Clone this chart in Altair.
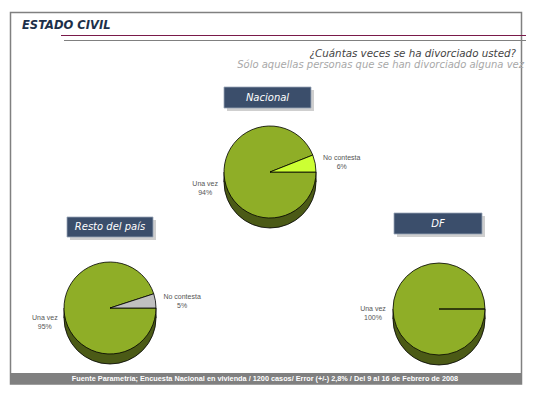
import math
import altair as alt
import pandas as pd

# ---------------- data ----------------
regions = ["Nacional", "Resto del país", "DF"]
categories = ["Una vez", "No contesta"]
pct_nacional = [94, 6]
pct_resto = [95, 5]
pct_df = [100, 0]

title_text = "ESTADO CIVIL"
question = "¿Cuántas veces se ha divorciado usted?"
subquestion = "Sólo aquellas personas que  se han divorciado alguna vez"
source = ("Fuente Parametría; Encuesta Nacional en vivienda / 1200 casos/ "
          "Error (+/-) 2,8% / Del 9 al 16 de Febrero de 2008")

rows = []
for reg, vals in zip(regions, [pct_nacional, pct_resto, pct_df]):
    for i, (c, v) in enumerate(zip(categories, vals)):
        rows.append(dict(region=reg, category=c, value=v, ord=i, label=f"{c}\n{v}%"))
data = pd.DataFrame(rows)
one = pd.DataFrame({"a": [0]})

# ---------------- layout / style ----------------
GREEN = "#8fae27"
DARK = "#4b5a16"
R = 46
DEPTH = 10
pies = {
    "Nacional": dict(cx=262, cy=164, wedge="#ccff33", box=(216, 303, 79, 100)),
    "Resto del país": dict(cx=102, cy=300, wedge="#c0c0c0", box=(59, 145, 209, 229)),
    "DF": dict(cx=431, cy=301, wedge="#c0c0c0", box=(386, 474, 205, 226)),
}

base = alt.Chart(one)
layers = []

# frame
layers.append(base.mark_rect(fillOpacity=0, stroke="#808080", strokeWidth=1.5).encode(
    x=alt.value(2.5), x2=alt.value(513.5), y=alt.value(4.5), y2=alt.value(376)))
# footer band
layers.append(base.mark_rect(fill="#808080").encode(
    x=alt.value(2), x2=alt.value(514), y=alt.value(365), y2=alt.value(376)))
layers.append(base.mark_text(text=source, font="Liberation Sans", fontWeight="bold",
                             fontSize=7.3, color="white", align="center", baseline="middle").encode(
    x=alt.value(257), y=alt.value(371)))
# title
layers.append(base.mark_text(text=title_text, font="DejaVu Sans", fontStyle="italic",
                             fontWeight="bold", fontSize=11.5, color="#1d3049",
                             align="left", baseline="alphabetic").encode(
    x=alt.value(14), y=alt.value(21)))
layers.append(base.mark_rule(color="#7a1a4a", strokeWidth=1).encode(
    x=alt.value(53), x2=alt.value(518), y=alt.value(27.5)))
layers.append(base.mark_rule(color="#808080", strokeWidth=1).encode(
    x=alt.value(56), x2=alt.value(518), y=alt.value(32.5)))
# question
layers.append(base.mark_text(text=question, font="DejaVu Sans", fontStyle="italic",
                             fontSize=10.3, color="#444444", align="right",
                             baseline="alphabetic").encode(x=alt.value(508), y=alt.value(48.5)))
layers.append(base.mark_text(text=subquestion, font="DejaVu Sans", fontStyle="italic",
                             fontSize=10.0, color="#a8a8a8", align="right",
                             baseline="alphabetic").encode(x=alt.value(516), y=alt.value(60)))

theta_scale = alt.Scale(range=[math.pi / 2, 5 * math.pi / 2])

for reg in regions:
    p = pies[reg]
    cx, cy = p["cx"], p["cy"]
    x0, x1, y0, y1 = p["box"]
    # title box with shadow
    layers.append(base.mark_rect(fill="#cfcfcf").encode(
        x=alt.value(x0 + 3), x2=alt.value(x1 + 3), y=alt.value(y0 + 3), y2=alt.value(y1 + 3)))
    layers.append(base.mark_rect(fill="#3b4e6b", stroke="#9aa6b8", strokeWidth=0.8).encode(
        x=alt.value(x0), x2=alt.value(x1), y=alt.value(y0), y2=alt.value(y1)))
    layers.append(base.mark_text(text=reg, font="DejaVu Sans", fontStyle="italic",
                                 fontSize=10, color="white", align="center",
                                 baseline="middle").encode(
        x=alt.value((x0 + x1) / 2), y=alt.value((y0 + y1) / 2)))
    # cylinder depth
    layers.append(base.mark_arc(radius=R, theta=0, theta2=2 * math.pi, fill=DARK,
                                stroke="black", strokeWidth=0.8).encode(
        x=alt.value(cx), y=alt.value(cy + DEPTH)))
    layers.append(base.mark_rect(fill=DARK).encode(
        x=alt.value(cx - R), x2=alt.value(cx + R), y=alt.value(cy), y2=alt.value(cy + DEPTH)))
    for sx in (cx - R, cx + R):
        layers.append(base.mark_rule(color="black", strokeWidth=0.8).encode(
            x=alt.value(sx), y=alt.value(cy), y2=alt.value(cy + DEPTH)))
    sub = alt.Chart(data).transform_filter(alt.datum.region == reg)
    # top face
    layers.append(sub.mark_arc(radius=R, stroke="black", strokeWidth=0.8).encode(
        theta=alt.Theta("value:Q", stack=True, scale=theta_scale),
        order=alt.Order("ord:Q"),
        color=alt.condition(alt.datum.category == "Una vez", alt.value(GREEN), alt.value(p["wedge"])),
        x=alt.value(cx), y=alt.value(cy)))
    # labels
    for cat, rad in (("Una vez", R + 20), ("No contesta", R + 27)):
        layers.append(sub.mark_text(font="Liberation Sans", fontSize=7, color="#555555",
                                    align="center", baseline="middle", lineBreak="\n",
                                    radius=rad).encode(
            theta=alt.Theta("value:Q", stack=True, scale=theta_scale),
            order=alt.Order("ord:Q"),
            text="label:N",
            opacity=alt.condition((alt.datum.category == cat) & (alt.datum.value > 0),
                                  alt.value(1), alt.value(0)),
            x=alt.value(cx), y=alt.value(cy)))

chart = alt.layer(*layers).properties(
    width=518, height=382, padding=0, autosize="none"
).configure_view(stroke=None)

chart.save("out.html", embed_options={"renderer": "svg", "actions": False})
